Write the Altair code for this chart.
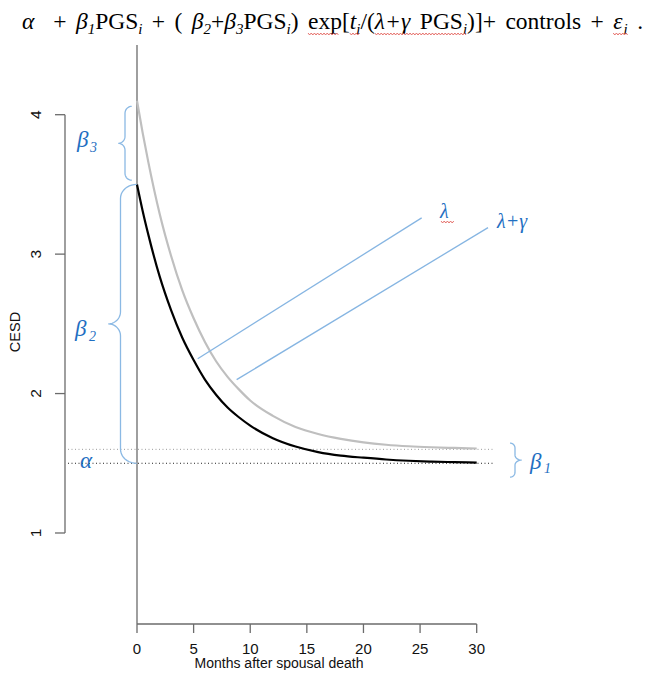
import math
import altair as alt
import pandas as pd

# ---------------- data ----------------
months = [0, 0.5, 1, 2, 3, 4, 5, 6, 7, 8, 9, 10, 12, 14, 16, 18, 20, 22, 24, 26, 28, 30]
cesd_black = [3.50, 3.31, 3.14, 2.84, 2.60, 2.40, 2.24, 2.10, 1.99, 1.90, 1.83, 1.77,
              1.68, 1.62, 1.58, 1.555, 1.54, 1.527, 1.518, 1.512, 1.508, 1.505]
cesd_grey = [4.10, 3.87, 3.66, 3.29, 2.99, 2.74, 2.54, 2.37, 2.23, 2.12, 2.03, 1.95,
             1.84, 1.76, 1.71, 1.675, 1.65, 1.633, 1.622, 1.615, 1.61, 1.606]
alpha_level = 1.5
alpha_beta1_level = 1.6
x_ticks = [0, 5, 10, 15, 20, 25, 30]
y_ticks = [1, 2, 3, 4]
lambda_seg_x = [5.36, 25.14]
lambda_seg_y = [2.25, 3.26]
lgamma_seg_x = [8.8, 31.0]
lgamma_seg_y = [2.10, 3.19]
brace_beta3 = [4.06, 3.53]
brace_beta2 = [3.50, 1.50]
brace_beta1 = [1.645, 1.40]

# ---------------- geometry ----------------
W, H = 639, 662
KX, KY = 11.323, 139.43
X0_PAGE, Y4_PAGE = 137.0, 114.7
XMIN = -(X0_PAGE - 8) / KX
XMAX = XMIN + W / KX
YMAX = 4 + (Y4_PAGE - 8) / KY
YMIN = YMAX - H / KY


def dx(px):
    return XMIN + (px - 8) / KX


def dy(py):
    return YMAX - (py - 8) / KY


def py_of(y):
    return 8 + (YMAX - y) * KY


xs = alt.Scale(domain=[XMIN, XMAX], nice=False, zero=False)
ys = alt.Scale(domain=[YMIN, YMAX], nice=False, zero=False)


def X(f="x"):
    return alt.X(f"{f}:Q", scale=xs, axis=None)


def Y(f="y"):
    return alt.Y(f"{f}:Q", scale=ys, axis=None)


def hrule(rows, **kw):
    df = pd.DataFrame(rows, columns=["x", "x2", "y"])
    return alt.Chart(df).mark_rule(**kw).encode(x=X(), x2="x2:Q", y=Y())


def vrule(rows, **kw):
    df = pd.DataFrame(rows, columns=["x", "y", "y2"])
    return alt.Chart(df).mark_rule(**kw).encode(x=X(), y=Y(), y2="y2:Q")


def texts(rows, **kw):
    df = pd.DataFrame(rows, columns=["x", "y", "t"])
    return alt.Chart(df).mark_text(**kw).encode(x=X(), y=Y(), text="t:N")


def zigzag(x0, x1, yb, amp=1.0, step=1.6):
    pts = []
    k = 0
    x = x0
    while x <= x1:
        pts.append((x, yb + (amp if k % 2 else -amp)))
        x += step
        k += 1
    return pts


AXIS_COL = "#6b6b6b"
BRACE_COL = "#8bb9e4"
BLUE_TXT = "#1f6fc2"
LINE_BLUE = "#86b5e2"
SANS = "Liberation Sans"
SERIF = "Liberation Serif"

layers = []

# dotted reference levels
layers.append(hrule([(dx(68), dx(493), alpha_beta1_level)], color="#9a9a9a",
                    strokeDash=[1, 2.5], strokeWidth=1))
layers.append(hrule([(dx(68), dx(493), alpha_level)], color="#222222",
                    strokeDash=[1, 2.5], strokeWidth=1))

# vertical line at t = 0
layers.append(vrule([(0, dy(624), dy(45))], color=AXIS_COL, strokeWidth=1.3))

# y axis (R style)
layers.append(vrule([(dx(65), y_ticks[0], y_ticks[-1])], color=AXIS_COL, strokeWidth=1.3))
layers.append(hrule([(dx(55), dx(65), v) for v in y_ticks], color=AXIS_COL, strokeWidth=1.3))
layers.append(texts([(dx(36), v, str(v)) for v in y_ticks], font=SANS, fontSize=15.5,
                    angle=270, align="center", baseline="middle", color="#111111"))

# x axis
layers.append(hrule([(x_ticks[0], x_ticks[-1], dy(624))], color=AXIS_COL, strokeWidth=1.3))
layers.append(vrule([(v, dy(633), dy(624)) for v in x_ticks], color=AXIS_COL, strokeWidth=1.3))
layers.append(texts([(v, dy(648.5), str(v)) for v in x_ticks], font=SANS, fontSize=15,
                    align="center", baseline="middle", color="#111111"))
layers.append(texts([(dx(279), dy(668), "Months after spousal death")], font=SANS,
                    fontSize=14, align="center", baseline="alphabetic", color="#111111"))
layers.append(texts([(dx(16), dy(332), "CESD")], font=SANS, fontSize=14.5, angle=270,
                    align="center", baseline="middle", color="#111111"))

# curves
curve_df = pd.DataFrame({"x": months, "black": cesd_black, "grey": cesd_grey})
layers.append(alt.Chart(curve_df).mark_line(color="#bfbfbf", strokeWidth=2.2,
                                             interpolate="monotone")
              .encode(x=X(), y=Y("grey")))
layers.append(alt.Chart(curve_df).mark_line(color="#000000", strokeWidth=2.2,
                                             interpolate="monotone")
              .encode(x=X(), y=Y("black")))

# blue rate lines
seg_df = pd.DataFrame({
    "x": lambda_seg_x + lgamma_seg_x,
    "y": lambda_seg_y + lgamma_seg_y,
    "s": ["l", "l", "lg", "lg"],
})
layers.append(alt.Chart(seg_df).mark_line(color=LINE_BLUE, strokeWidth=1.3)
              .encode(x=X(), y=Y(), detail="s:N"))


# braces
def brace_points(e, s, p, yt, yb, r, r2, n=10):
    ym = (yt + yb) / 2
    pts = []
    for k in range(n + 1):
        f = math.radians(-90 - 90 * k / n)
        pts.append((e + (e - s) * math.cos(f), yt + r + r * math.sin(f)))
    for k in range(n + 1):
        f = math.radians(90 * k / n)
        pts.append((p + (s - p) * math.cos(f), ym - r2 + r2 * math.sin(f)))
    for k in range(n + 1):
        f = math.radians(-90 + 90 * k / n)
        pts.append((p + (s - p) * math.cos(f), ym + r2 + r2 * math.sin(f)))
    for k in range(n + 1):
        f = math.radians(180 - 90 * k / n)
        pts.append((e + (e - s) * math.cos(f), yb - r + r * math.sin(f)))
    return pts


brace_rows = []
specs = [
    ("b3", 131.7, 125.0, 118.3, brace_beta3, 7, 7),
    ("b2", 136.7, 120.5, 108.3, brace_beta2, 14, 12),
    ("b1", 510.0, 515.0, 521.7, brace_beta1, 5, 5),
]
for name, e, s, p, (ytop, ybot), r, r2 in specs:
    pts = brace_points(e, s, p, py_of(ytop), py_of(ybot), r, r2)
    for i, (px, py) in enumerate(pts):
        brace_rows.append({"b": name, "i": i, "x": dx(px), "y": dy(py)})
brace_df = pd.DataFrame(brace_rows)
layers.append(alt.Chart(brace_df).mark_line(color=BRACE_COL, strokeWidth=1.3)
              .encode(x=X(), y=Y(), detail="b:N", order="i:Q"))

# blue labels
layers.append(texts([(dx(77), dy(146.5), "β"), (dx(75), dy(336), "β"),
                     (dx(530), dy(468.5), "β"), (dx(80), dy(468), "α")],
                    font=SERIF, fontSize=23, fontStyle="italic", align="left",
                    baseline="alphabetic", color=BLUE_TXT))
layers.append(texts([(dx(90), dy(152), "3"), (dx(89), dy(341), "2"),
                     (dx(544), dy(473), "1")],
                    font=SERIF, fontSize=14, fontStyle="italic", align="left",
                    baseline="alphabetic", color=BLUE_TXT))
layers.append(texts([(dx(440), dy(218), "λ"), (dx(497), dy(228), "λ+γ")],
                    font=SERIF, fontSize=20, fontStyle="italic", align="left",
                    baseline="alphabetic", color=BLUE_TXT))

# equation title: glyph runs at their natural width, extra room goes to the spaces
segments = [
    ("α", "it", 0), ("  + ", "n", 0), ("β", "it", 0), ("1", "it", 1), ("PGS", "n", 0),
    ("i", "it", 1), (" + ( ", "n", 0), ("β", "it", 0), ("2", "it", 1), ("+", "n", 0),
    ("β", "it", 0), ("3", "it", 1), ("PGS", "n", 0), ("i", "it", 1), (") exp[", "n", 0),
    ("t", "it", 0), ("i", "it", 1), ("/(", "n", 0), ("λ+γ", "it", 0), (" PGS", "n", 0),
    ("i", "it", 1), (")]+ controls + ", "n", 0), ("ε", "it", 0), ("i", "it", 1),
    (" .", "n", 0),
]
em = {"+": 0.564, "(": 0.333, ")": 0.333, "[": 0.333, "]": 0.333,
      "/": 0.278, ".": 0.25, "P": 0.556, "G": 0.722, "S": 0.556, "e": 0.444,
      "x": 0.5, "p": 0.5, "c": 0.444, "o": 0.5, "n": 0.5, "t": 0.278, "r": 0.333,
      "l": 0.278, "s": 0.389, "i": 0.278, "1": 0.5, "2": 0.5, "3": 0.5,
      "α": 0.53, "β": 0.5, "γ": 0.45, "λ": 0.5, "ε": 0.44}
FMAIN, FSUB = 23.5, 15.0
start, end = 22.0, 643.0
glyph_px = 0.0
n_space = 0
for t, st, sub in segments:
    for ch in t:
        if ch == " ":
            n_space += 1
        else:
            glyph_px += em.get(ch, 0.5) * (FSUB if sub else FMAIN)
space_px = (end - start - glyph_px) / n_space
BASE = 29.0
pieces = []
cur = start
for t, st, sub in segments:
    fs = FSUB if sub else FMAIN
    run, run_start = "", cur
    for ch in t:
        if ch == " ":
            if run:
                pieces.append((run_start, cur, run, st, sub))
                run = ""
            cur += space_px
        else:
            if not run:
                run_start = cur
            run += ch
            cur += em.get(ch, 0.5) * fs
    if run:
        pieces.append((run_start, cur, run, st, sub))

eq_n = [(dx(a), dy(BASE), t) for a, b, t, st, sub in pieces if not sub and st == "n"]
eq_it = [(dx(a), dy(BASE), t) for a, b, t, st, sub in pieces if not sub and st == "it"]
eq_sub = [(dx(a), dy(BASE + 4.5), t) for a, b, t, st, sub in pieces if sub]
layers.append(texts(eq_n, font=SERIF, fontSize=FMAIN, align="left", baseline="alphabetic",
                    color="#000000"))
layers.append(texts(eq_it, font=SERIF, fontSize=FMAIN, fontStyle="italic", align="left",
                    baseline="alphabetic", color="#000000"))
layers.append(texts(eq_sub, font=SERIF, fontSize=FSUB, fontStyle="italic", align="left",
                    baseline="alphabetic", color="#000000"))

# red spell-check squiggles seen in the picture
P = pieces
exp_end = P[16][0] + (P[16][1] - P[16][0]) * 0.75
spans = [(P[16][0], exp_end, BASE + 5), (P[17][0], P[18][1], BASE + 5),
         (P[20][0], P[22][1], BASE + 5), (P[26][0], P[27][1], BASE + 5),
         (441, 454, 222)]
sq_rows = []
for j, (a, b, yb) in enumerate(spans):
    for i, (px, py) in enumerate(zigzag(a, b, yb)):
        sq_rows.append({"g": j, "i": i, "x": dx(px), "y": dy(py)})
sq_df = pd.DataFrame(sq_rows)
layers.append(alt.Chart(sq_df).mark_line(color="#e0504a", strokeWidth=0.8)
              .encode(x=X(), y=Y(), detail="g:N", order="i:Q"))

chart = (
    alt.layer(*layers)
    .properties(width=W, height=H, padding=0,
                autosize=alt.AutoSizeParams(type="none"), background="white")
    .configure_view(stroke=None)
)
chart.save("out.html", embed_options={"renderer": "svg", "actions": False})
